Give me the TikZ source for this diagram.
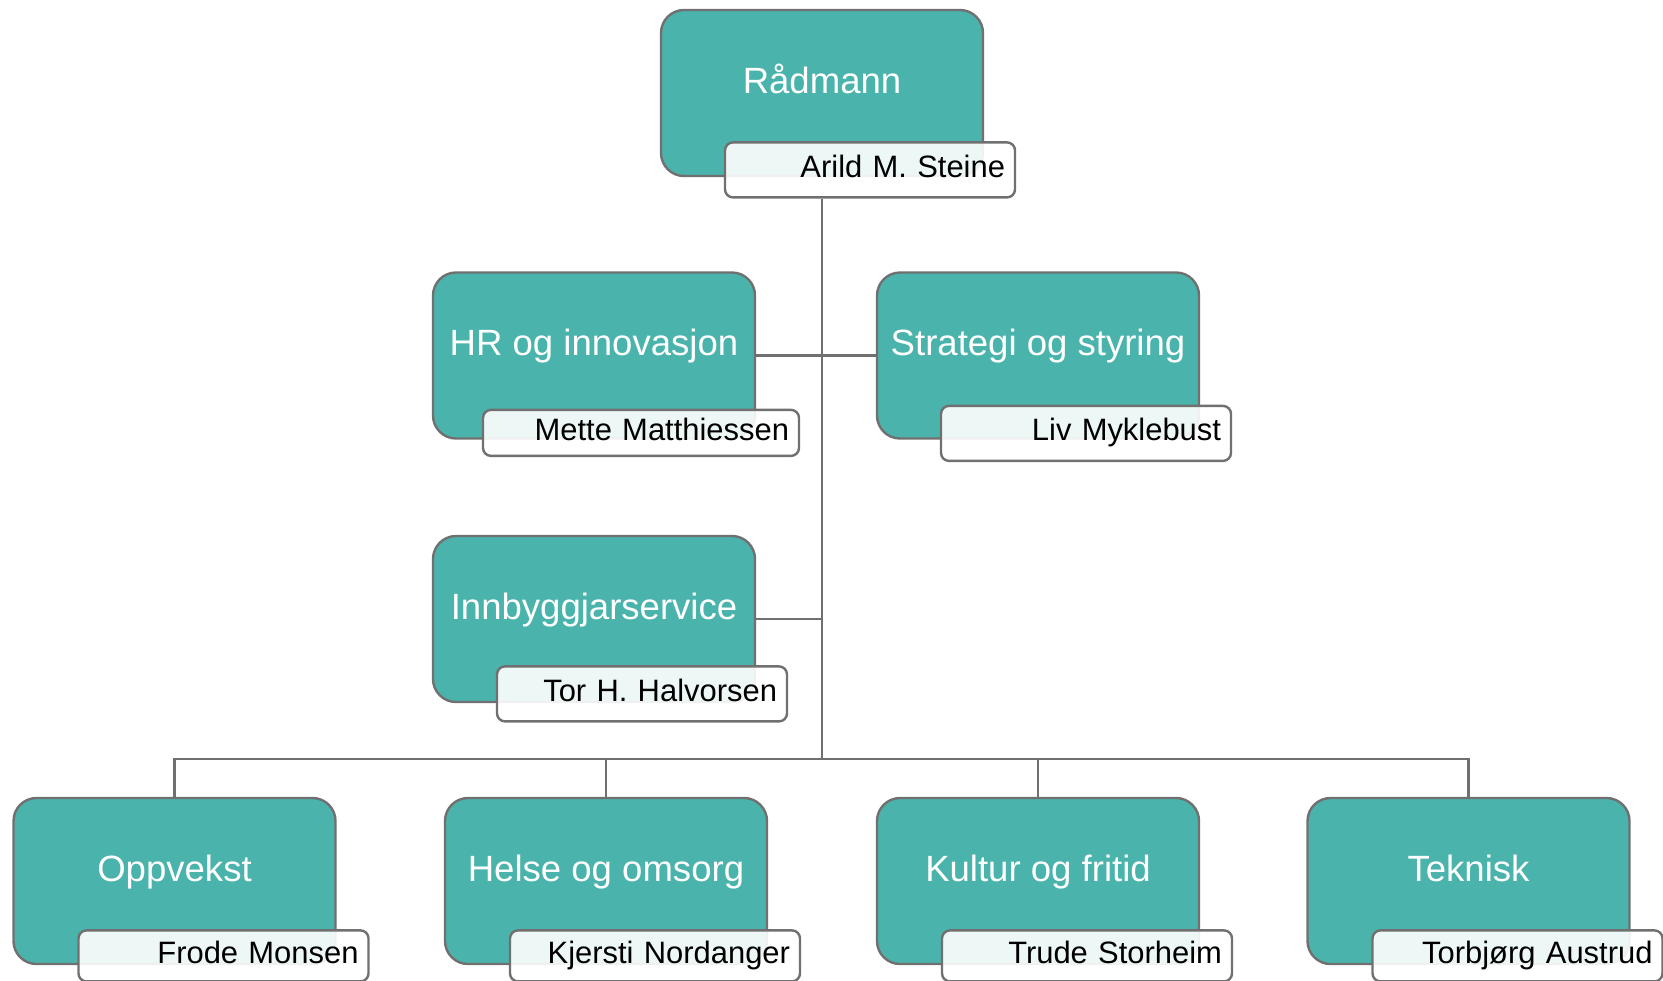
\documentclass[tikz,border=0pt]{standalone}
\usepackage{fontspec}
\setmainfont{Liberation Sans}
\usepackage{tikz}
\usetikzlibrary{positioning}
\definecolor{unitteal}{HTML}{4AB3AC}
\definecolor{edgegrey}{HTML}{707070}
\tikzset{
  unit/.style={draw=edgegrey, line width=1.7pt, fill=unitteal, rounded corners=0.575cm,
    minimum width=8.05cm, minimum height=4.15cm, inner sep=0pt, text=white,
    font=\fontsize{26}{30}\selectfont, text height=0.6cm, text depth=0.6cm},
  boss/.style={draw=edgegrey, line width=1.7pt, fill=white, fill opacity=0.9, text opacity=1,
    rounded corners=0.2cm, anchor=north west, text width=6.75cm, align=right,
    inner xsep=0.25cm, inner ysep=0pt, minimum height=1.375cm,
    font=\fontsize{22}{26}\selectfont, text height=0.58cm, text depth=0.2cm},
  link/.style={draw=edgegrey, line width=2pt}
}

\begin{document}
\begin{tikzpicture}
      \useasboundingbox (0,0) rectangle (41.575,-24.5);
      \node[unit] (rad) at (20.55,-2.325) {Rådmann};
      \node[boss] (radname) at ([xshift=1.6cm,yshift=0.9cm]rad.south west) {Arild M. Steine};
      \node[unit] (hr) at (14.85,-8.8875) {HR og innovasjon};
      \node[boss, text width=7.4cm, minimum height=1.15cm] (hrname) at ([xshift=1.25cm,yshift=0.775cm]hr.south west) {Mette Matthiessen};
      \node[unit] (strat) at (25.95,-8.8875) {Strategi og styring};
      \node[boss] (stratname) at ([xshift=1.6cm,yshift=0.875cm]strat.south west) {Liv Myklebust};
      \node[unit] (innb) at (14.85,-15.475) {Innbyggjarservice};
      \node[boss] (innbname) at ([xshift=1.6cm,yshift=0.95cm]innb.south west) {Tor H. Halvorsen};
      \foreach \key/\x/\unitname/\person in {opp/4.3625/Oppvekst/Frode Monsen,
          hel/15.15/Helse og omsorg/Kjersti Nordanger, kul/25.95/Kultur og fritid/Trude Storheim,
          tek/36.7125/Teknisk/Torbjørg Austrud} {
        \node[unit] (\key) at (\x,-22.025) {\unitname};
        \node[boss, minimum height=1.275cm] (\key-name) at ([xshift=1.625cm,yshift=0.9cm]\key.south west) {\person};
      }
      \coordinate (bus) at (20.55,-18.975);
      \draw[link] (radname.south -| rad.south) -- (bus);
      \draw[link] (hr.east) -- (strat.west);
      \draw[link] (innb.east) -- (innb.east -| bus);
      \draw[link] (opp.north) |- (bus) -| (tek.north);
      \draw[link] (hel.north) -- (hel.north |- bus);
      \draw[link] (kul.north) -- (kul.north |- bus);
    \end{tikzpicture}
\end{document}
